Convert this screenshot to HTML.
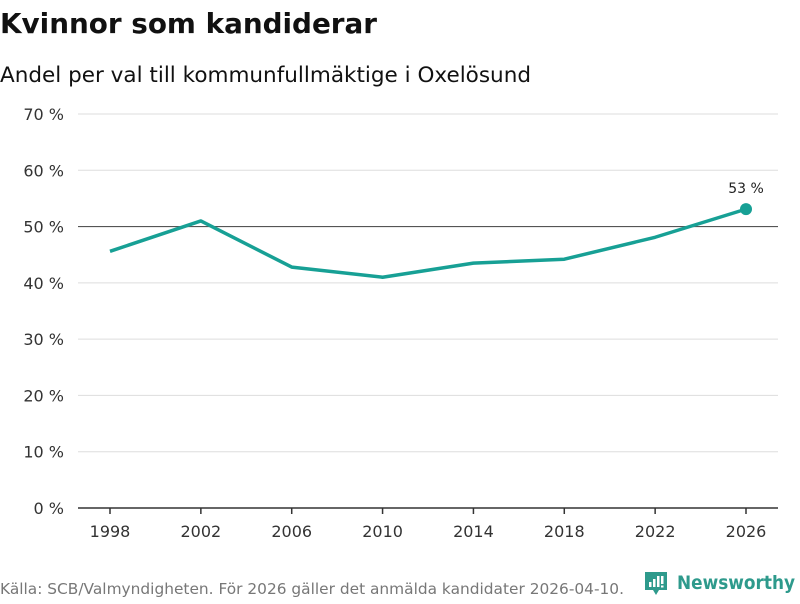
<!DOCTYPE html>
<html><head><meta charset="utf-8"><style>
body{margin:0;background:#fff;font-family:"DejaVu Sans","Liberation Sans",sans-serif;}
svg text{font-family:"DejaVu Sans","Liberation Sans",sans-serif;}
</style></head><body>
<svg id="c" width="800" height="600" xmlns="http://www.w3.org/2000/svg">
<text x="0" y="33" font-size="28" font-weight="bold" fill="#111" textLength="377" lengthAdjust="spacingAndGlyphs">Kvinnor som kandiderar</text>
<text x="0" y="82" font-size="21" fill="#111" textLength="531" lengthAdjust="spacingAndGlyphs">Andel per val till kommunfullmäktige i Oxelösund</text>
<g id="grid"></g><g id="xax"></g><g id="plot"></g>
<text x="0" y="594" font-size="15" fill="#777" textLength="624" lengthAdjust="spacingAndGlyphs">Källa: SCB/Valmyndigheten. För 2026 gäller det anmälda kandidater 2026-04-10.</text>
<g>
<path d="M645 572h22v18h-8l-3 5l-3-5h-8z" fill="#2e9a8c"/>
<rect x="649" y="582" width="2.5" height="5" fill="#fff"/><rect x="653" y="579" width="2.5" height="8" fill="#fff"/><rect x="657" y="576" width="2.5" height="11" fill="#fff"/><rect x="661" y="576" width="2.5" height="8" fill="#fff"/><rect x="661" y="585.5" width="2.5" height="2" fill="#fff"/>
<text x="677" y="589" font-size="19" font-weight="bold" fill="#2e9a8c" textLength="118" lengthAdjust="spacingAndGlyphs">Newsworthy</text>
</g>
</svg>
<script>
const years=[1998,2002,2006,2010,2014,2018,2022,2026];
const values=[45.6,51.0,42.8,41.0,43.5,44.2,48.1,53.1];
const yTicks=[0,10,20,30,40,50,60,70];
const xs=y=>110+(y-1998)*(746-110)/28;
const ys=v=>508-v*(508-114)/70;
const NS="http://www.w3.org/2000/svg";
function mk(p,t,a){const e=document.createElementNS(NS,t);for(const k in a)e.setAttribute(k,a[k]);document.getElementById(p).appendChild(e);return e;}
yTicks.forEach(t=>{
 if(t>0){const l=mk('grid','line',{x1:78,x2:778,y1:ys(t),y2:ys(t),stroke:t==50?'#555':'#ddd','stroke-width':t==50?1.2:1});
 
 }
 const tx=mk('grid','text',{x:64,y:ys(t)+6,'text-anchor':'end','font-size':16,fill:'#333'});tx.textContent=t+' %';
 
 
});
const ax=mk('xax','line',{x1:78,x2:778,y1:508,y2:508,stroke:'#333','stroke-width':1.5});


years.forEach(y=>{
 mk('xax','line',{x1:xs(y),x2:xs(y),y1:508,y2:514,stroke:'#333','stroke-width':1.5});
 const t=mk('xax','text',{x:xs(y),y:537,'text-anchor':'middle','font-size':16,fill:'#333'});t.textContent=y;
 
 
});
const pl=mk('plot','polyline',{points:years.map((y,i)=>xs(y)+','+ys(values[i])).join(' '),fill:'none',stroke:'#17a095','stroke-width':3.5,'stroke-linejoin':'round'});


const n=years.length-1;
const d=mk('plot','circle',{cx:xs(years[n]),cy:ys(values[n]),r:6,fill:'#17a095'});


const lb=mk('plot','text',{x:xs(years[n]),y:ys(values[n])-16,'text-anchor':'middle','font-size':14,fill:'#222'});lb.textContent=Math.round(values[n])+' %';


</script>
</body></html>
